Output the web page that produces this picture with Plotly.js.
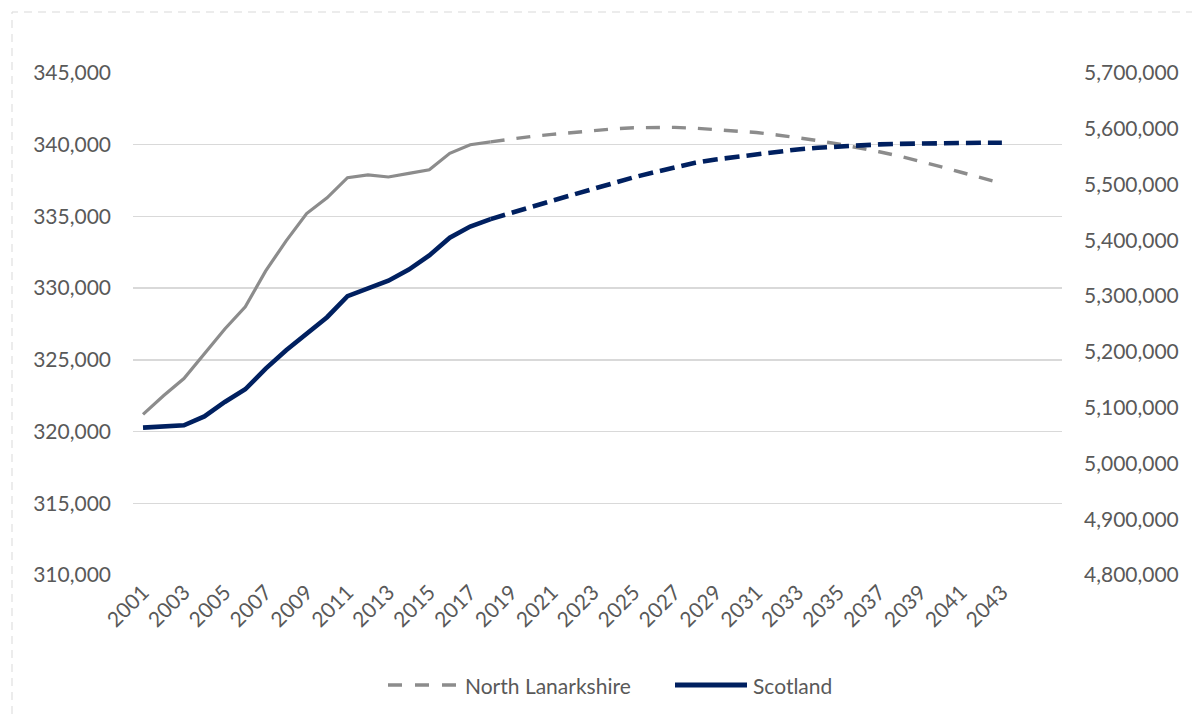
<!DOCTYPE html>
<html>
<head>
<meta charset="utf-8">
<script src="https://cdn.plot.ly/plotly-3.0.1.min.js"></script>
<style>
html,body{margin:0;padding:0;background:#fff;}
#chart{width:1192px;height:716px;}
</style>
</head>
<body>
<div id="chart"></div>
<script>
// Historical years (estimates) and projection years
const histYears = [2001,2002,2003,2004,2005,2006,2007,2008,2009,2010,2011,2012,2013,2014,2015,2016,2017,2018];
const projYears = [2018,2019,2020,2021,2022,2023,2024,2025,2026,2027,2028,2029,2030,2031,2032,2033,2034,2035,2036,2037,2038,2039,2040,2041,2042,2043];

// North Lanarkshire (left axis)
const nlHist = [321200,322500,323700,325400,327150,328700,331200,333300,335200,336300,337700,337900,337750,338000,338250,339400,340000,340200];
const nlProj = [340200,340400,340580,340720,340860,340990,341100,341180,341220,341210,341150,341070,340960,340850,340680,340500,340290,340050,339790,339510,339200,338850,338470,338080,337680,337300];

// Scotland (right axis)
const scHist = [5064200,5066000,5068500,5084300,5110200,5133000,5170000,5202900,5231900,5262200,5299900,5313600,5327700,5347600,5373000,5404700,5424800,5438100];
const scProj = [5438100,5448000,5460000,5471000,5482000,5493000,5503000,5513000,5522000,5531000,5539000,5545000,5550000,5555000,5559000,5563000,5566000,5568500,5570500,5572000,5573000,5574000,5574500,5575000,5575000,5575000];

const seriesNames = ['North Lanarkshire', 'Scotland'];

const xTicks = [];
for (let y = 2001; y <= 2043; y += 2) xTicks.push(y);

const leftTicks = [310000,315000,320000,325000,330000,335000,340000,345000];
const rightTicks = [4800000,4900000,5000000,5100000,5200000,5300000,5400000,5500000,5600000,5700000];

const GREY = '#8c8c8c';
const NAVY = '#002060';
const TXT = '#595959';
const FONT = 'Lato, "Open Sans", sans-serif';
const FS = 21;

const traces = [
  {x: histYears, y: nlHist, name: seriesNames[0], mode: 'lines', yaxis: 'y',
   line: {color: GREY, width: 3.2}, showlegend: false, hoverinfo: 'skip'},
  {x: projYears, y: nlProj, name: seriesNames[0], mode: 'lines', yaxis: 'y',
   line: {color: GREY, width: 3.4, dash: '14px,12px'}, showlegend: false, hoverinfo: 'skip'},
  {x: histYears, y: scHist, name: seriesNames[1], mode: 'lines', yaxis: 'y2',
   line: {color: NAVY, width: 4.6}, showlegend: false, hoverinfo: 'skip'},
  {x: projYears, y: scProj, name: seriesNames[1], mode: 'lines', yaxis: 'y2',
   line: {color: NAVY, width: 4.6, dash: '15px,7px'}, showlegend: false, hoverinfo: 'skip'}
];

// Plot area in pixels: x 133..1062, y 73..575
const PL = 133, PW = 929, PT = 73, PH = 502;
const px = v => (v - PL) / PW;
const py = v => (PT + PH - v) / PH;
const legY = py(685);

const layout = {
  width: 1192, height: 716,
  paper_bgcolor: '#ffffff', plot_bgcolor: '#ffffff',
  margin: {l: PL, r: 1192 - PL - PW, t: PT, b: 716 - PT - PH, pad: 0},
  font: {family: FONT, size: FS, color: TXT},
  showlegend: false,
  xaxis: {
    range: [2000.51, 2045.94], tickvals: xTicks, ticktext: xTicks.map(String),
    tickangle: -45, showgrid: false, zeroline: false, showline: false,
    ticks: '', tickfont: {size: FS, color: TXT}
  },
  yaxis: {
    range: [310000, 345000], tickvals: leftTicks, tickformat: ',d',
    showgrid: true, gridcolor: '#d9d9d9', gridwidth: 1.4, zeroline: false, showline: false,
    ticks: '', tickfont: {size: FS, color: TXT}, ticklabelstandoff: 21
  },
  yaxis2: {
    range: [4800000, 5700000], tickvals: rightTicks, tickformat: ',d',
    overlaying: 'y', side: 'right', showgrid: false, zeroline: false, showline: false,
    ticks: '', tickfont: {size: FS, color: TXT}, ticklabelstandoff: 21
  },
  shapes: [
    {type: 'rect', xref: 'paper', yref: 'paper', x0: px(12), x1: px(1230), y0: py(760), y1: py(12),
     line: {color: '#d9d9d9', width: 1, dash: '8px,6px'}, fillcolor: 'rgba(0,0,0,0)', layer: 'below'},
    // legend symbols
    {type: 'line', xref: 'paper', yref: 'paper', x0: px(388), x1: px(458), y0: legY, y1: legY,
     line: {color: GREY, width: 3.6, dash: '14px,13px'}},
    {type: 'line', xref: 'paper', yref: 'paper', x0: px(675), x1: px(747), y0: legY, y1: legY,
     line: {color: NAVY, width: 5}}
  ],
  annotations: [
    {xref: 'paper', yref: 'paper', x: px(463), y: legY, xanchor: 'left', yanchor: 'middle',
     text: seriesNames[0], showarrow: false, font: {size: FS, color: TXT}},
    {xref: 'paper', yref: 'paper', x: px(751), y: legY, xanchor: 'left', yanchor: 'middle',
     text: seriesNames[1], showarrow: false, font: {size: FS, color: TXT}}
  ]
};

Plotly.newPlot('chart', traces, layout, {displayModeBar: false, staticPlot: true});
</script>
</body>
</html>
